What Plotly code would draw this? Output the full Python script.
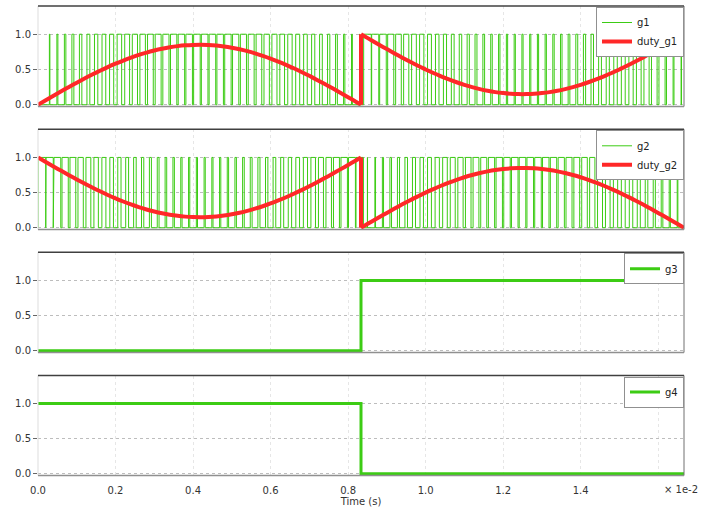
import plotly.graph_objects as go

# ---------------- data ----------------
carrier_period_s = 200e-6          # PWM carrier period
t_end_s = 1 / 60                   # end of simulation (one 60 Hz cycle)
t_step_s = 1 / 120                 # half-cycle instant where duties jump

# duty of g1 sampled at the start of each carrier period
duty_g1 = [0.000, 0.064, 0.128, 0.191, 0.253, 0.313, 0.372, 0.428, 0.482, 0.534,
           0.582, 0.627, 0.668, 0.706, 0.740, 0.769, 0.794, 0.815, 0.831, 0.842,
           0.848, 0.850, 0.847, 0.839, 0.826, 0.808, 0.786, 0.760, 0.729, 0.694,
           0.655, 0.612, 0.566, 0.517, 0.465, 0.410, 0.352, 0.293, 0.232, 0.170,
           0.107, 0.043,
           0.979, 0.915, 0.851, 0.789, 0.727, 0.667, 0.609, 0.554, 0.500, 0.450,
           0.403, 0.359, 0.319, 0.282, 0.250, 0.222, 0.198, 0.179, 0.165, 0.155,
           0.151, 0.151, 0.155, 0.165, 0.179, 0.198, 0.222, 0.250, 0.282, 0.319,
           0.359, 0.403, 0.450, 0.500, 0.554, 0.609, 0.667, 0.727, 0.789, 0.851,
           0.915, 0.979]

# duty of g2 (complementary switch)
duty_g2 = [1.000, 0.936, 0.872, 0.809, 0.747, 0.687, 0.628, 0.572, 0.518, 0.466,
           0.418, 0.373, 0.332, 0.294, 0.260, 0.231, 0.206, 0.185, 0.169, 0.158,
           0.152, 0.150, 0.153, 0.161, 0.174, 0.192, 0.214, 0.240, 0.271, 0.306,
           0.345, 0.388, 0.434, 0.483, 0.535, 0.590, 0.648, 0.707, 0.768, 0.830,
           0.893, 0.957,
           0.021, 0.085, 0.149, 0.211, 0.273, 0.333, 0.391, 0.446, 0.500, 0.550,
           0.597, 0.641, 0.681, 0.718, 0.750, 0.778, 0.802, 0.821, 0.835, 0.845,
           0.849, 0.849, 0.845, 0.835, 0.821, 0.802, 0.778, 0.750, 0.718, 0.681,
           0.641, 0.597, 0.550, 0.500, 0.446, 0.391, 0.333, 0.273, 0.211, 0.149,
           0.085, 0.021]

# duty values at the half-cycle discontinuity (before, after) and at the end
duty_g1_jump = [0.0, 1.0]
duty_g1_end = 1.0
duty_g2_jump = [1.0, 0.0]
duty_g2_end = 0.0

# low-frequency gate signals: value before / after the half-cycle instant
g3_levels = [0, 1]
g4_levels = [1, 0]

x_tick_vals = [0.000, 0.002, 0.004, 0.006, 0.008, 0.010, 0.012, 0.014, 0.016]
x_tick_text = ["0.0", "0.2", "0.4", "0.6", "0.8", "1.0", "1.2", "1.4", ""]
y_tick_vals = [0.0, 0.5, 1.0]
y_tick_text = ["0.0", "0.5", "1.0"]

# ---------------- helpers ----------------
def pwm_wave(duties, T):
    xs, ys = [], []
    for k, d in enumerate(duties):
        t0 = k * T
        ton = t0 + (1 - d) / 2 * T
        toff = t0 + (1 + d) / 2 * T
        xs += [t0]; ys += [0]
        if d > 0:
            xs += [ton, ton, toff, toff]
            ys += [0, 1, 1, 0]
    xs.append(len(duties) * T); ys.append(0)
    return xs, ys


def duty_parts(duties, jump, end_val, T):
    n_half = len(duties) // 2
    first = ([k * T for k in range(n_half)] + [t_step_s],
             duties[:n_half] + [jump[0]])
    mid = ([t_step_s, t_step_s], jump)
    second = ([t_step_s] + [k * T for k in range(n_half, len(duties))] + [t_end_s],
              [jump[1]] + duties[n_half:] + [end_val])
    return first, mid, second


GREEN = "#3ccc14"
RED = "#ff2828"
FONT = "DejaVu Sans"

W, H = 702, 512
x_dom = [38 / W, 684 / W]
panels_px = [(6, 106.5), (129.3, 229.5), (252.3, 352.5), (375.5, 475.5)]
y_doms = [[1 - b / H, 1 - t / H] for t, b in panels_px]

fig = go.Figure()


def add_pwm_panel(duties, jump, end_val, gname, dname, ax, lg):
    gx, gy = pwm_wave(duties, carrier_period_s)
    fig.add_trace(go.Scatter(x=gx, y=gy, mode="lines", name=gname,
                             line=dict(color=GREEN, width=1), xaxis="x" + ax,
                             yaxis="y" + ax, legend=lg))
    parts = duty_parts(duties, jump, end_val, carrier_period_s)
    for j, (px, py) in enumerate(parts):
        fig.add_trace(go.Scatter(x=px, y=py, mode="lines", name=dname,
                                 legendgroup=dname, showlegend=(j == 0),
                                 line=dict(color=RED, width=4,
                                           shape="spline" if j != 1 else "linear",
                                           smoothing=0.8),
                                 xaxis="x" + ax, yaxis="y" + ax, legend=lg))


add_pwm_panel(duty_g1, duty_g1_jump, duty_g1_end, "g1", "duty_g1", "", "legend")
add_pwm_panel(duty_g2, duty_g2_jump, duty_g2_end, "g2", "duty_g2", "2", "legend2")

step_x = [0, t_step_s, t_step_s, t_end_s]
fig.add_trace(go.Scatter(x=step_x, y=[g3_levels[0], g3_levels[0], g3_levels[1], g3_levels[1]],
                         mode="lines", name="g3", line=dict(color=GREEN, width=3),
                         xaxis="x3", yaxis="y3", legend="legend3"))
fig.add_trace(go.Scatter(x=step_x, y=[g4_levels[0], g4_levels[0], g4_levels[1], g4_levels[1]],
                         mode="lines", name="g4", line=dict(color=GREEN, width=3),
                         xaxis="x4", yaxis="y4", legend="legend4"))

layout = dict(width=W, height=H, margin=dict(l=0, r=0, t=0, b=0),
              paper_bgcolor="white", plot_bgcolor="white",
              font=dict(family=FONT, size=10, color="#333333"),
              template="none")

for i in range(4):
    sx = "" if i == 0 else str(i + 1)
    layout["xaxis" + sx] = dict(domain=x_dom, range=[0, t_end_s], anchor="y" + sx,
                                tickvals=x_tick_vals, ticktext=x_tick_text,
                                showticklabels=(i == 3), ticks="",
                                ticklabelstandoff=7,
                                showgrid=True, gridcolor="#e6e6e6", griddash="dot",
                                gridwidth=1, zeroline=False, showline=False,
                                automargin=False,
                                tickfont=dict(family=FONT, size=10, color="#333333"))
    layout["yaxis" + sx] = dict(domain=y_doms[i], range=[-0.025, 1.4], anchor="x" + sx,
                                tickvals=y_tick_vals, ticktext=y_tick_text,
                                ticks="outside", ticklen=4, tickcolor="#666666",
                                showgrid=True, gridcolor="#bdbdbd", griddash="dot",
                                gridwidth=1, zeroline=False, showline=False,
                                automargin=False,
                                tickfont=dict(family=FONT, size=10, color="#333333"))
    lname = "legend" if i == 0 else "legend" + str(i + 1)
    layout[lname] = dict(x=684 / W, xanchor="right", y=1 - (panels_px[i][0] + 1) / H,
                         yanchor="top", xref="paper", yref="paper",
                         bgcolor="white", bordercolor="#909090", borderwidth=1,
                         font=dict(family=FONT, size=10, color="#222222"),
                         tracegroupgap=0, itemwidth=30)

layout["xaxis4"]["title"] = dict(text="Time (s)", standoff=2,
                                 font=dict(family=FONT, size=10, color="#333333"))

shapes = []
for i in range(4):
    sx = "" if i == 0 else str(i + 1)
    xr, yr = "x" + sx + " domain", "y" + sx + " domain"
    shapes.append(dict(type="line", xref=xr, yref=yr, x0=0, x1=0, y0=0, y1=1,
                       line=dict(color="#dddddd", width=1)))
    shapes.append(dict(type="line", xref=xr, yref=yr, x0=1, x1=1, y0=0, y1=1,
                       line=dict(color="#707070", width=1)))
    shapes.append(dict(type="line", xref=xr, yref=yr, x0=0, x1=1, y0=1, y1=1,
                       line=dict(color="#404040", width=1.5)))
    shapes.append(dict(type="line", xref=xr, yref=yr, x0=0, x1=1, y0=0, y1=0,
                       line=dict(color="#909090", width=1.5)))
layout["shapes"] = shapes

layout["annotations"] = [dict(text="× 1e-2", xref="paper", yref="paper",
                              x=700 / W, y=1 - 489 / H, xanchor="right", yanchor="middle",
                              showarrow=False,
                              font=dict(family=FONT, size=10, color="#333333"))]

fig.update_layout(**layout)
fig.write_html("out.html")
